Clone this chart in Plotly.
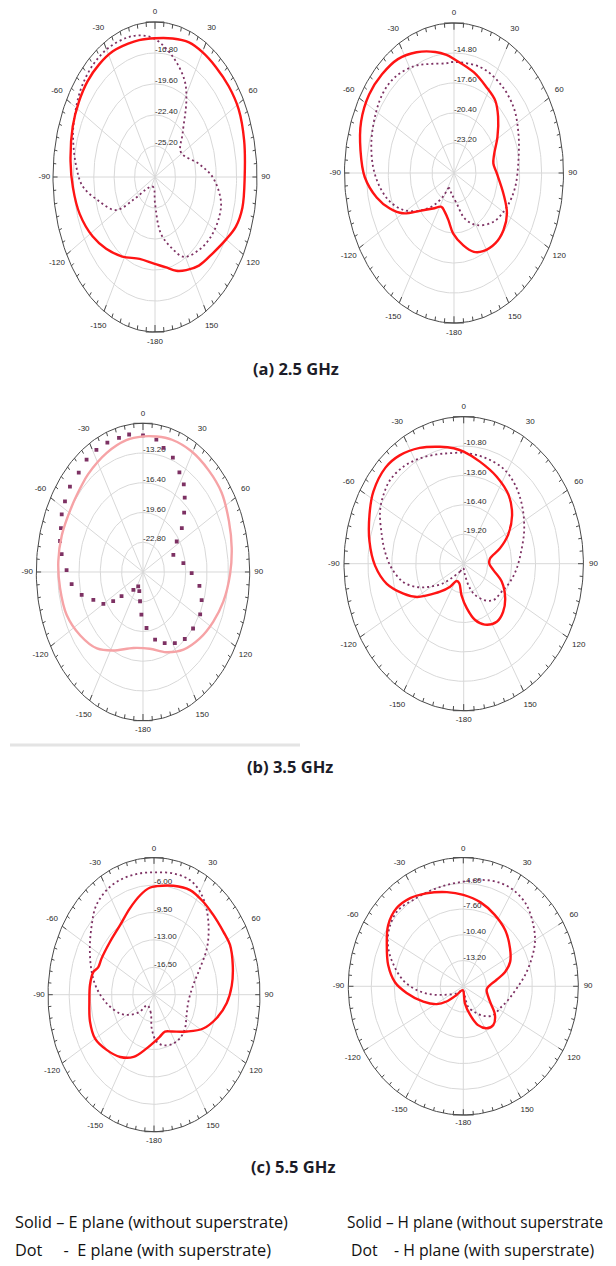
import numpy as np
import plotly.graph_objects as go

W, H = 616, 1266

ANGLE_TICKS = [0, 30, 60, 90, 120, 150, 180, -150, -120, -90, -60, -30]
ANGLE_LABELS = ["0", "30", "60", "90", "120", "150", "-180", "-150", "-120", "-90", "-60", "-30"]

# ---------------- (a) 2.5 GHz ----------------
a_e_range = [-28.0, -14.0]
a_e_rings = [-25.20, -22.40, -19.60, -16.80]
a_e_solid_ang = [-179, -164, -148, -134, -122, -108, -95, -83, -68, -57, -47, -37, -27, -17, -10,
                 0, 11, 21, 30, 40, 51, 62, 75, 90, 103, 112, 120, 131, 143, 153, 161, 170]
a_e_solid_db = [-20.17, -20.31, -19.53, -18.68, -17.89, -17.14, -16.70, -16.32, -15.82, -15.54,
                -15.33, -15.26, -15.26, -15.40, -15.44, -15.47, -15.26, -14.98, -14.98, -15.02,
                -14.98, -14.99, -15.33, -15.69, -15.69, -16.03, -16.73, -17.50, -17.98, -18.56,
                -19.04, -19.73]
a_e_dot_ang = [-180, -170, -150, -132, -125, -119, -105, -95, -85, -71, -61, -51, -40, -29, -17,
               -9, 0, 13, 25, 32, 44, 58, 79, 90, 103, 112, 125, 137, 151, 160, 171]
a_e_dot_db = [-25.62, -27.02, -27.02, -26.32, -24.50, -21.84, -19.88, -18.06, -17.15, -16.10,
              -15.54, -15.05, -14.77, -14.70, -14.84, -15.05, -15.54, -16.90, -18.38, -19.88,
              -22.55, -23.80, -21.84, -20.10, -18.73, -18.48, -18.62, -19.04, -19.74, -21.14,
              -22.82]

a_h_range = [-26.0, -12.0]
a_h_rings = [-23.20, -20.40, -17.60, -14.80]
a_h_solid_ang = [-179, -171, -162, -153, -141, -129, -120, -112, -103, -92, -80, -68, -56, -45,
                 -34, -23, -12, -5, 0, 15, 27, 38, 47, 59, 71, 80, 90, 107, 119, 130, 141, 153,
                 161, 170]
a_h_solid_db = [-20.34, -21.52, -22.18, -22.46, -21.74, -20.39, -18.48, -17.15, -15.85, -14.59,
                -13.86, -13.19, -12.91, -12.98, -13.18, -13.76, -14.45, -14.94, -15.36, -16.26,
                -16.96, -17.43, -18.29, -19.52, -20.57, -20.89, -20.54, -19.39, -18.26, -17.73,
                -17.57, -17.81, -18.22, -19.14]
a_h_dot_ang = [-171, -155, -148, -139, -129, -118, -108, -98, -87, -74, -60, -50, -40, -27, -17,
               -6, 0, 19, 35, 51, 66, 82, 100, 115, 132, 149, 162, 173]
a_h_dot_db = [-24.04, -24.46, -23.48, -21.98, -20.43, -18.66, -17.38, -16.44, -15.65, -15.02,
              -14.52, -14.24, -14.30, -14.80, -15.36, -15.71, -15.64, -15.56, -15.78, -16.21,
              -16.98, -17.68, -18.08, -18.54, -19.20, -20.32, -21.52, -23.12]

# ---------------- (b) 3.5 GHz ----------------
b_e_range = [-26.0, -10.0]
b_e_rings = [-22.80, -19.60, -16.40, -13.20]
b_e_solid_ang = [-170, -152, -140, -126, -112, -98, -85, -72, -57, -46, -38, -23, -10, 0, 8, 17,
                 29, 42, 54, 67, 79, 91, 105, 117, 130, 144, 158, 173]
b_e_solid_db = [-17.70, -16.43, -15.26, -14.38, -13.66, -13.44, -13.25, -13.20, -13.20, -12.96,
                -12.64, -12.08, -11.60, -11.41, -11.28, -11.12, -11.12, -11.28, -11.44, -12.00,
                -12.45, -12.94, -13.55, -14.19, -14.88, -15.68, -16.69, -17.68]
b_e_dot_ang = [-177, -172, -165, -155, -143, -129, -125, -120, -112, -105, -97, -89, -81, -75,
               -69, -63, -57, -50, -42, -35, -28, -21, -14, -8, 0, 8, 13, 20, 27, 33, 38, 44,
               51, 57, 68, 81, 91, 100, 109, 118, 129, 139, 148, 157, 166, 175]
b_e_dot_db = [-21.41, -22.82, -23.86, -24.30, -23.60, -21.86, -20.54, -19.14, -17.97, -16.48,
              -15.22, -14.54, -13.65, -13.12, -12.82, -12.32, -12.05, -11.70, -11.60, -11.25,
              -11.12, -11.09, -11.12, -11.06, -11.30, -11.62, -12.30, -12.91, -13.98, -14.77,
              -15.84, -17.12, -18.51, -19.97, -21.09, -19.87, -18.70, -17.41, -16.70, -16.29,
              -16.34, -16.45, -16.98, -17.68, -18.50, -19.95]

b_h_range = [-22.0, -8.0]
b_h_rings = [-19.20, -16.40, -13.60, -10.80]
b_h_solid_ang = [-175, -165, -154, -144, -134, -125, -120, -112, -102, -91, -79, -67, -57, -45,
                 -36, -25, -14, -6, 0, 11, 25, 39, 51, 62, 71, 81, 90, 100, 111, 124, 135, 145,
                 157, 166, 175]
b_h_solid_db = [-19.00, -20.05, -20.17, -19.30, -18.16, -16.75, -15.67, -14.40, -12.80, -11.63,
                -10.77, -10.03, -9.40, -9.06, -9.25, -9.83, -10.52, -10.94, -11.33, -12.10,
                -12.86, -13.63, -14.72, -16.11, -17.51, -18.88, -19.00, -18.47, -17.24, -16.15,
                -15.49, -15.25, -15.70, -16.47, -17.73]
b_h_dot_ang = [-170, -150, -136, -128, -119, -112, -104, -93, -83, -74, -63, -55, -47, -37, -27,
               -17, -9, 0, 8, 17, 28, 39, 51, 65, 78, 94, 108, 121, 135, 146, 158, 165, 172]
b_h_dot_db = [-21.58, -21.13, -20.28, -18.98, -17.49, -16.08, -14.73, -13.57, -12.73, -12.03,
              -11.02, -10.55, -10.27, -10.38, -10.74, -11.12, -11.35, -11.43, -11.54, -11.65,
              -11.85, -12.40, -13.21, -14.19, -15.06, -15.78, -16.32, -16.82, -17.10, -17.84,
              -18.95, -19.90, -20.91]

# ---------------- (c) 5.5 GHz ----------------
c_e_range = [-20.0, -2.5]
c_e_rings = [-16.50, -13.00, -9.50, -6.00]
c_e_solid_ang = [-170, -157, -145, -132, -120, -108, -95, -83, -74, -69, -62, -47, -32, -20,
                 -10, -3, 2, 13, 24, 34, 44, 55, 63, 74, 85, 95, 106, 118, 131, 148, 159, 170,
                 179]
c_e_solid_db = [-13.04, -11.37, -10.29, -9.47, -8.77, -8.89, -9.29, -9.36, -9.57, -10.15,
                -10.18, -10.08, -9.48, -8.29, -7.07, -6.32, -6.12, -5.72, -5.37, -5.60, -5.88,
                -6.00, -5.93, -6.47, -7.12, -7.94, -9.22, -10.80, -12.83, -14.45, -14.94,
                -14.54, -14.00]
c_e_dot_ang = [-175, -167, -140, -133, -123, -113, -98, -85, -74, -61, -49, -40, -29, -19, -9,
               1, 12, 22, 30, 38, 47, 56, 66, 79, 99, 116, 130, 143, 155, 167, 176]
c_e_dot_db = [-15.68, -17.64, -18.25, -16.83, -15.28, -13.89, -12.11, -10.50, -9.29, -7.89,
              -6.39, -5.14, -4.46, -4.30, -4.32, -4.37, -4.18, -4.20, -4.81, -5.97, -7.66,
              -9.48, -11.69, -13.39, -14.26, -14.02, -13.32, -12.97, -13.02, -13.39, -13.98]

c_h_range = [-16.0, -2.0]
c_h_rings = [-13.20, -10.40, -7.60, -4.80]
c_h_solid_ang = [-170, -139, -129, -121, -109, -96, -87, -76, -64, -54, -44, -34, -24, -11, 0,
                 13, 26, 40, 54, 65, 73, 80, 91, 98, 117, 129, 139, 148, 157, 165, 174]
c_h_solid_db = [-15.58, -14.75, -13.37, -12.23, -10.85, -9.06, -7.67, -6.58, -5.64, -4.69,
                -4.25, -4.44, -4.94, -5.57, -6.06, -6.63, -7.33, -8.05, -8.97, -9.71, -10.68,
                -11.88, -12.96, -13.13, -12.36, -11.04, -10.43, -10.62, -11.41, -12.78, -14.14]
c_h_dot_ang = [-170, -133, -111, -102, -94, -85, -74, -65, -55, -44, -33, -21, -10, 0, 10, 20,
               30, 41, 52, 61, 70, 81, 92, 105, 118, 131, 141, 151, 165, 170]
c_h_dot_db = [-15.58, -14.88, -13.40, -11.86, -10.30, -8.66, -7.12, -5.91, -5.00, -4.53, -4.80,
              -4.86, -4.79, -4.62, -4.25, -3.92, -3.88, -4.27, -5.18, -6.02, -7.14, -8.40,
              -9.50, -10.33, -10.93, -11.20, -11.83, -12.64, -13.70, -14.87]

SUBTITLES = ["(a) 2.5 GHz", "(b) 3.5 GHz", "(c) 5.5 GHz"]
LEGEND_LINES = [
    "Solid \u2013 E plane (without superstrate)",
    "Dot\u00a0\u00a0\u00a0\u00a0\u00a0-\u00a0\u00a0E plane (with superstrate)",
    "Solid \u2013 H plane (without superstrate",
    "Dot\u00a0\u00a0\u00a0\u00a0- H plane (with superstrate)",
]

# ---------------- styling / placement ----------------
RED = "#ff1414"
PINK = "#f6a3a6"
DOT = "#7d3163"
GRID = "#d8d8d8"
RIM = "#4a4a4a"
TICK_FONT = dict(family="Liberation Sans, Arial", size=8, color="#2a2a2a")
R_PAD = 1.12

panels = [
    dict(cx=155.0, cy=177.0, hw=102.0, hh=155.0, rng=a_e_range, rings=a_e_rings,
         solid=(a_e_solid_ang, a_e_solid_db), dot=(a_e_dot_ang, a_e_dot_db),
         solid_color=RED, dot_markers=False),
    dict(cx=454.0, cy=173.0, hw=109.5, hh=150.0, rng=a_h_range, rings=a_h_rings,
         solid=(a_h_solid_ang, a_h_solid_db), dot=(a_h_dot_ang, a_h_dot_db),
         solid_color=RED, dot_markers=False),
    dict(cx=143.0, cy=572.0, hw=106.7, hh=148.7, rng=b_e_range, rings=b_e_rings,
         solid=(b_e_solid_ang, b_e_solid_db), dot=(b_e_dot_ang, b_e_dot_db),
         solid_color=PINK, dot_markers=True),
    dict(cx=463.7, cy=563.7, hw=119.7, hh=147.0, rng=b_h_range, rings=b_h_rings,
         solid=(b_h_solid_ang, b_h_solid_db), dot=(b_h_dot_ang, b_h_dot_db),
         solid_color=RED, dot_markers=False),
    dict(cx=154.0, cy=994.7, hw=106.0, hh=137.0, rng=c_e_range, rings=c_e_rings,
         solid=(c_e_solid_ang, c_e_solid_db), dot=(c_e_dot_ang, c_e_dot_db),
         solid_color=RED, dot_markers=False),
    dict(cx=463.3, cy=986.3, hw=115.0, hh=128.7, rng=c_h_range, rings=c_h_rings,
         solid=(c_h_solid_ang, c_h_solid_db), dot=(c_h_dot_ang, c_h_dot_db),
         solid_color=RED, dot_markers=False),
]


def to_xy(ang, db, rng, close=False):
    ang = np.asarray(ang, dtype=float)
    rho = (np.asarray(db, dtype=float) - rng[0]) / (rng[1] - rng[0])
    if close:
        ang = np.append(ang, ang[0])
        rho = np.append(rho, rho[0])
    t = np.radians(ang)
    return rho * np.sin(t), rho * np.cos(t)


def ellipse(rho, n=241):
    t = np.linspace(0, 2 * np.pi, n)
    return list(rho * np.sin(t)) + [None], list(rho * np.cos(t)) + [None]


fig = go.Figure()

for i, p in enumerate(panels, start=1):
    xa, ya = ("x", "y") if i == 1 else (f"x{i}", f"y{i}")
    common = dict(xaxis=xa, yaxis=ya, showlegend=False, hoverinfo="skip")

    # light grid: rings and 30-degree spokes
    gx, gy = [], []
    for r in (0.2, 0.4, 0.6, 0.8):
        ex, ey = ellipse(r)
        gx += ex
        gy += ey
    for a in range(0, 360, 30):
        t = np.radians(a)
        gx += [0, np.sin(t), None]
        gy += [0, np.cos(t), None]
    fig.add_trace(go.Scatter(x=gx, y=gy, mode="lines",
                             line=dict(color=GRID, width=1), **common))

    # outer rim with small ticks
    rx, ry = ellipse(1.0)
    for a in range(0, 360, 5):
        t = np.radians(a)
        inner = 0.955 if a % 30 == 0 else 0.972
        rx += [inner * np.sin(t), np.sin(t), None]
        ry += [inner * np.cos(t), np.cos(t), None]
    for yv in (1.0, -1.0):
        rx += [-0.09, 0.09, None]
        ry += [yv, yv, None]
    fig.add_trace(go.Scatter(x=rx, y=ry, mode="lines",
                             line=dict(color=RIM, width=1), **common))

    # angular labels
    lx, ly = [], []
    for a in ANGLE_TICKS:
        t = np.radians(a)
        k = 1.065 if a in (0, 180) else (1.085 if abs(a) == 90 else 1.11)
        lx.append(k * np.sin(t))
        ly.append(k * np.cos(t))
    fig.add_trace(go.Scatter(x=lx, y=ly, mode="text", text=ANGLE_LABELS,
                             textposition="middle center", textfont=TICK_FONT,
                             cliponaxis=False, **common))

    # radial ring labels along the 0-degree spoke
    rr = [(v - p["rng"][0]) / (p["rng"][1] - p["rng"][0]) for v in p["rings"]]
    fig.add_trace(go.Scatter(x=[0.0] * len(rr), y=[r + 0.02 for r in rr], mode="text",
                             text=[f"{v:.2f}" for v in p["rings"]],
                             textposition="middle right", textfont=TICK_FONT,
                             cliponaxis=False, **common))

    # pattern with superstrate (dotted)
    if p["dot_markers"]:
        dx, dy = to_xy(*p["dot"], p["rng"])
        fig.add_trace(go.Scatter(x=dx, y=dy, mode="markers",
                                 marker=dict(symbol="square", size=3.8, color=DOT),
                                 **common))
    else:
        dx, dy = to_xy(*p["dot"], p["rng"], close=True)
        fig.add_trace(go.Scatter(x=dx, y=dy, mode="lines",
                                 line=dict(color=DOT, width=1.8, dash="2px,3px",
                                           shape="spline", smoothing=1.0),
                                 **common))

    # pattern without superstrate (solid)
    sx, sy = to_xy(*p["solid"], p["rng"], close=True)
    fig.add_trace(go.Scatter(x=sx, y=sy, mode="lines",
                             line=dict(color=p["solid_color"], width=2.4,
                                       shape="spline", smoothing=1.0),
                             **common))

    # axis domains placing each pattern in its pixel box
    xd = [(p["cx"] - R_PAD * p["hw"]) / W, (p["cx"] + R_PAD * p["hw"]) / W]
    yd = [1 - (p["cy"] + R_PAD * p["hh"]) / H, 1 - (p["cy"] - R_PAD * p["hh"]) / H]
    xkey = "xaxis" if i == 1 else f"xaxis{i}"
    ykey = "yaxis" if i == 1 else f"yaxis{i}"
    fig.layout[xkey] = dict(domain=xd, range=[-R_PAD, R_PAD], visible=False,
                            anchor=ya, fixedrange=True)
    fig.layout[ykey] = dict(domain=yd, range=[-R_PAD, R_PAD], visible=False,
                            anchor=xa, fixedrange=True)

# sub-figure captions
title_font = dict(family="Open Sans, Lato, sans-serif", size=16.5, color="#1c1c28")
for txt, (xc, yc) in zip(SUBTITLES, [(296, 368), (290, 766), (293, 1166)]):
    fig.add_annotation(x=xc / W, y=1 - yc / H, xref="paper", yref="paper",
                       text=f"<b>{txt}</b>", showarrow=False, font=title_font,
                       xanchor="center", yanchor="middle")

# legend description lines (right column slightly smaller so it fits the page)
legend_specs = [(13, 1222, 16.3), (13, 1250, 16.3), (345, 1222, 15.4), (349, 1250, 15.8)]
for txt, (xl, yc, fs) in zip(LEGEND_LINES, legend_specs):
    fig.add_annotation(x=xl / W, y=1 - yc / H, xref="paper", yref="paper",
                       text=txt, showarrow=False,
                       font=dict(family="Open Sans, Lato, sans-serif", size=fs,
                                 color="#111111"),
                       xanchor="left", yanchor="middle")

# faint separator under the 3.5 GHz E-plane pattern
fig.add_shape(type="line", xref="paper", yref="paper",
              x0=10 / W, x1=300 / W, y0=1 - 745 / H, y1=1 - 745 / H,
              line=dict(color="#e4e4e4", width=3))

fig.update_layout(width=W, height=H, margin=dict(l=0, r=0, t=0, b=0),
                  paper_bgcolor="white", plot_bgcolor="white")

fig.write_html("out.html")
